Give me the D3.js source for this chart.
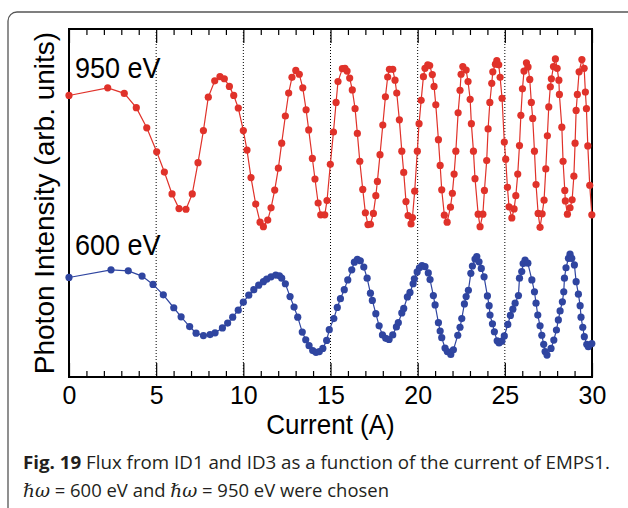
<!DOCTYPE html>
<html>
<head>
<meta charset="utf-8">
<script src="https://cdn.jsdelivr.net/npm/d3@7"></script>
<style>
    body { margin: 0; background: #fff; }
    svg { display: block; }
</style>
</head>
<body>
<svg></svg>
<script>
// photon flux vs EMPS1 current, two photon energies
var xTicks = [0, 5, 10, 15, 20, 25, 30];
var xMinor = d3.range(0, 31, 1);

// 950 eV (red)
var redCurrent = [0.00, 2.22, 3.17, 3.86, 4.46, 5.03, 5.47, 5.91, 6.31, 6.71, 7.07, 7.40, 7.71, 7.99, 8.36, 8.66, 8.91, 9.20, 9.45, 9.71,
    10.00, 10.21, 10.44, 10.71, 10.96, 11.15, 11.40, 11.59, 11.80, 12.01, 12.20, 12.41, 12.60, 12.79, 13.01, 13.21, 13.41, 13.60, 13.75, 13.96,
    14.11, 14.29, 14.44, 14.67, 14.80, 14.99, 15.17, 15.32, 15.43, 15.68, 15.83, 15.95, 16.10, 16.25, 16.41, 16.54, 16.68, 16.85, 17.00, 17.15,
    17.29, 17.46, 17.60, 17.69, 17.84, 18.00, 18.15, 18.28, 18.38, 18.57, 18.70, 18.80, 18.95, 19.09, 19.20, 19.33, 19.45, 19.62, 19.70, 19.83,
    19.98, 20.08, 20.20, 20.33, 20.42, 20.58, 20.69, 20.84, 20.94, 21.04, 21.19, 21.29, 21.38, 21.53, 21.69, 21.88, 21.99, 22.09, 22.19, 22.32,
    22.43, 22.49, 22.59, 22.78, 22.89, 23.01, 23.08, 23.20, 23.29, 23.47, 23.58, 23.74, 23.83, 23.96, 24.04, 24.14, 24.25, 24.31, 24.46, 24.54,
    24.65, 24.73, 24.84, 24.97, 25.05, 25.15, 25.24, 25.40, 25.53, 25.63, 25.74, 25.84, 25.92, 26.01, 26.10, 26.24, 26.33, 26.43, 26.52, 26.60,
    26.70, 26.79, 26.91, 27.02, 27.14, 27.25, 27.35, 27.44, 27.52, 27.61, 27.67, 27.79, 27.90, 28.00, 28.10, 28.13, 28.27, 28.34, 28.44, 28.47,
    28.59, 28.74, 28.86, 28.96, 29.03, 29.09, 29.16, 29.26, 29.42, 29.55, 29.62, 29.68, 29.76, 29.87, 29.99];
var redIntensity = [80.9, 83.1, 81.5, 77.4, 71.6, 64.7, 58.9, 52.6, 48.4, 48.2, 52.6, 61.6, 70.8, 80.4, 85.1, 86.3, 85.7, 83.5, 80.9, 77.3,
    70.8, 65.2, 57.3, 49.7, 44.5, 43.2, 45.1, 48.6, 53.7, 60.0, 67.2, 75.0, 81.6, 86.1, 88.1, 87.0, 83.1, 76.8, 71.0, 62.8,
    56.9, 50.0, 46.6, 46.6, 50.7, 61.1, 70.4, 78.9, 84.9, 88.6, 88.7, 87.9, 85.9, 82.5, 77.1, 70.0, 62.0, 53.9, 47.2, 43.8,
    43.9, 47.0, 52.1, 56.2, 63.9, 72.4, 80.5, 86.2, 88.4, 88.4, 85.3, 81.6, 73.9, 64.9, 58.8, 50.4, 46.4, 44.0, 45.8, 53.4,
    64.9, 72.8, 79.5, 86.3, 88.7, 89.7, 89.5, 86.9, 83.5, 78.2, 68.2, 60.8, 53.8, 46.5, 44.5, 48.8, 52.8, 58.3, 64.9, 75.9,
    82.4, 87.0, 89.2, 88.2, 84.9, 79.8, 72.8, 64.9, 57.0, 46.8, 43.2, 46.8, 53.6, 62.2, 71.3, 78.9, 84.4, 87.7, 89.9, 90.9,
    89.7, 86.1, 80.1, 67.5, 62.6, 54.5, 48.9, 45.7, 48.3, 52.1, 58.3, 66.5, 75.2, 82.8, 87.9, 90.3, 89.1, 85.5, 78.9, 74.3,
    64.9, 55.3, 47.0, 43.0, 46.9, 50.8, 59.8, 69.3, 77.6, 83.4, 85.7, 89.2, 91.4, 88.7, 85.3, 81.2, 71.8, 62.0, 53.6, 50.6,
    46.8, 48.6, 50.9, 57.7, 67.2, 76.6, 81.2, 87.7, 91.2, 88.7, 81.9, 77.1, 66.4, 55.1, 46.6];

// 600 eV (blue)
var blueCurrent = [0.00, 2.41, 3.40, 4.19, 4.82, 5.41, 6.01, 6.43, 6.92, 7.29, 7.71, 8.09, 8.38, 8.80, 9.10, 9.39, 9.71, 10.00, 10.31, 10.60,
    10.88, 11.15, 11.34, 11.59, 11.86, 12.07, 12.20, 12.41, 12.68, 12.91, 13.12, 13.38, 13.58, 13.77, 13.98, 14.17, 14.36, 14.56, 14.78, 14.93,
    15.19, 15.39, 15.57, 15.79, 15.99, 16.22, 16.37, 16.54, 16.71, 16.91, 17.10, 17.29, 17.40, 17.60, 17.79, 17.98, 18.17, 18.36, 18.57, 18.78,
    18.89, 19.09, 19.20, 19.41, 19.56, 19.74, 19.81, 19.97, 20.10, 20.25, 20.42, 20.61, 20.71, 20.90, 21.00, 21.19, 21.29, 21.38, 21.57, 21.70,
    21.90, 22.05, 22.30, 22.43, 22.53, 22.68, 22.78, 22.91, 23.05, 23.14, 23.29, 23.39, 23.52, 23.65, 23.81, 24.00, 24.10, 24.15, 24.29, 24.40,
    24.56, 24.67, 24.83, 24.97, 25.17, 25.32, 25.46, 25.59, 25.78, 25.84, 25.97, 26.05, 26.16, 26.32, 26.55, 26.70, 26.79, 26.89, 27.02, 27.12,
    27.23, 27.31, 27.42, 27.65, 27.81, 27.96, 28.07, 28.17, 28.30, 28.38, 28.42, 28.51, 28.65, 28.74, 28.84, 28.99, 29.09, 29.22, 29.32, 29.37,
    29.47, 29.56, 29.70, 29.79, 29.99];
var blueIntensity = [28.6, 30.8, 30.5, 29.0, 26.6, 23.6, 19.9, 17.3, 14.5, 12.6, 11.9, 12.2, 12.7, 14.1, 15.5, 17.2, 19.2, 21.5, 23.5, 25.1,
    26.4, 27.4, 28.1, 28.8, 29.3, 29.1, 28.4, 26.8, 23.1, 20.1, 17.2, 12.9, 10.7, 9.0, 7.6, 7.1, 7.3, 8.2, 10.5, 13.6,
    16.8, 20.0, 22.5, 25.1, 27.9, 30.8, 33.0, 33.8, 33.4, 31.6, 28.4, 24.1, 22.0, 18.2, 14.7, 12.1, 11.1, 10.8, 12.1, 14.4,
    15.6, 18.4, 19.7, 23.0, 24.3, 26.8, 28.2, 30.2, 31.4, 32.0, 31.7, 29.9, 28.0, 23.4, 20.7, 15.6, 13.2, 11.3, 8.3, 7.3,
    6.5, 7.8, 12.0, 14.3, 16.8, 21.0, 23.1, 24.9, 29.8, 31.9, 33.9, 34.6, 33.1, 31.2, 28.8, 23.3, 20.5, 17.8, 15.3, 13.0,
    10.4, 9.8, 10.3, 11.8, 15.1, 17.7, 19.5, 21.2, 23.4, 28.4, 30.3, 32.6, 33.6, 32.7, 27.9, 24.5, 21.2, 17.8, 14.7, 12.0,
    9.4, 7.3, 6.3, 8.2, 10.6, 13.5, 16.4, 19.0, 21.6, 24.5, 28.4, 31.4, 34.1, 35.3, 34.1, 32.2, 27.4, 23.8, 20.5, 17.2,
    14.3, 11.6, 9.4, 8.7, 9.6];

var redColor = "#e0322a", blueColor = "#2f45a0";
var svgWidth = 628, svgHeight = 508;
var plotLeft = 69, plotRight = 592, plotTop = 29, plotBottom = 377;
var font = "'Liberation Sans', Arial, sans-serif";

var svg = d3.select("svg")
    .attr("width", svgWidth)
    .attr("height", svgHeight);

// card border, runs off the right and bottom edge
svg.append("rect")
    .attr("x", 8).attr("y", 12)
    .attr("width", 660).attr("height", 540)
    .attr("rx", 9)
    .attr("fill", "none")
    .attr("stroke", "#555")
    .attr("stroke-width", 1.3);

var xScale = d3.scaleLinear().domain([0, 30]).range([plotLeft, plotRight]);
var yScale = d3.scaleLinear().domain([0, 100]).range([plotBottom, plotTop]);

// dotted guide lines at every 5 A
svg.selectAll(".guide")
    .data(xTicks.slice(1, -1))
    .enter()
    .append("line")
    .attr("class", "guide")
    .attr("x1", function (d) { return xScale(d); })
    .attr("x2", function (d) { return xScale(d); })
    .attr("y1", plotTop).attr("y2", plotBottom)
    .attr("stroke", "#000")
    .attr("stroke-width", 1)
    .attr("stroke-dasharray", "1,2");

// bottom and top axes, ticks pointing in
var axisBottom = d3.axisBottom(xScale).tickValues(xMinor)
    .tickSize(-6).tickFormat(function (d) { return xTicks.indexOf(d) >= 0 ? d : ""; });
var gx = svg.append("g").attr("transform", "translate(0," + plotBottom + ")").call(axisBottom);
var axisTop = d3.axisTop(xScale).tickValues(xMinor).tickSize(-6).tickFormat("");
var gt = svg.append("g").attr("transform", "translate(0," + plotTop + ")").call(axisTop);

[gx, gt].forEach(function (g) {
    g.select(".domain").remove();
    g.selectAll(".tick line")
        .attr("stroke", "#000")
        .attr("stroke-width", 1.2)
        .filter(function (d) { return xTicks.indexOf(d) >= 0; })
        .attr("y2", g === gx ? -14 : 14);
});
// the figure's lettering is a bit taller than wide
gx.selectAll(".tick text")
    .attr("font-family", font)
    .attr("font-size", 24)
    .attr("fill", "#000")
    .attr("dy", 0)
    .attr("y", 0)
    .attr("transform", "translate(0,26.5) scale(1.04,1.1)");

// plot frame
svg.append("rect")
    .attr("x", plotLeft).attr("y", plotTop)
    .attr("width", plotRight - plotLeft).attr("height", plotBottom - plotTop)
    .attr("fill", "none")
    .attr("stroke", "#000")
    .attr("stroke-width", 2);

function drawSeries(xs, ys, color) {
    var pts = xs.map(function (x, i) { return [x, ys[i]]; });
    var line = d3.line()
        .x(function (d) { return xScale(d[0]); })
        .y(function (d) { return yScale(d[1]); });
    svg.append("path")
        .datum(pts)
        .attr("d", line)
        .attr("fill", "none")
        .attr("stroke", color)
        .attr("stroke-width", 1.2);
    svg.append("g").selectAll("circle")
        .data(pts)
        .enter()
        .append("circle")
        .attr("cx", function (d) { return xScale(d[0]); })
        .attr("cy", function (d) { return yScale(d[1]); })
        .attr("r", 3.6)
        .attr("fill", color);
}
drawSeries(blueCurrent, blueIntensity, blueColor);
drawSeries(redCurrent, redIntensity, redColor);

svg.append("text")
    .attr("transform", "translate(75,78) scale(1,1.1)")
    .attr("font-family", font).attr("font-size", 27)
    .text("950 eV");
svg.append("text")
    .attr("transform", "translate(75,255) scale(1,1.1)")
    .attr("font-family", font).attr("font-size", 27)
    .text("600 eV");

svg.append("text")
    .attr("transform", "translate(" + (plotLeft + plotRight) / 2 + ",434) scale(1.04,1.1)")
    .attr("text-anchor", "middle")
    .attr("font-family", font).attr("font-size", 25)
    .text("Current (A)");

svg.append("text")
    .attr("transform", "translate(54,203) rotate(-90)")
    .attr("text-anchor", "middle")
    .attr("font-family", font).attr("font-size", 28)
    .text("Photon Intensity (arb. units)");

// caption
var capFont = "'Open Sans', 'Noto Sans', sans-serif";
var cap1 = svg.append("text")
    .attr("x", 23).attr("y", 469)
    .attr("font-family", capFont).attr("font-size", 18)
    .attr("fill", "#231f20")
    .attr("textLength", 587).attr("lengthAdjust", "spacingAndGlyphs");
cap1.append("tspan").attr("font-weight", "bold").text("Fig. 19");
cap1.append("tspan").text(" Flux from ID1 and ID3 as a function of the current of EMPS1.");

var cap2 = svg.append("text")
    .attr("x", 23).attr("y", 497)
    .attr("font-family", capFont).attr("font-size", 18)
    .attr("fill", "#231f20")
    .attr("textLength", 366).attr("lengthAdjust", "spacingAndGlyphs");
cap2.append("tspan").attr("font-style", "italic").attr("font-family", "'DejaVu Serif', serif").text("\u210F\u03C9");
cap2.append("tspan").text(" = 600 eV and ");
cap2.append("tspan").attr("font-style", "italic").attr("font-family", "'DejaVu Serif', serif").text("\u210F\u03C9");
cap2.append("tspan").text(" = 950 eV were chosen");
</script>
</body>
</html>
